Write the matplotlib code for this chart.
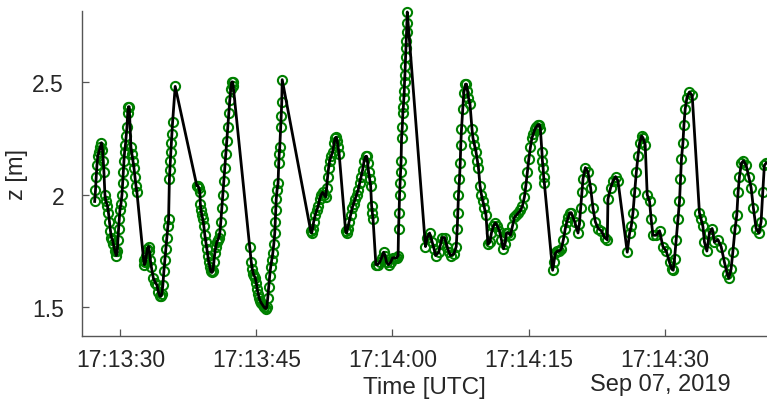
import matplotlib
matplotlib.use("Agg")
import matplotlib.pyplot as plt
import matplotlib.dates as mdates
from datetime import datetime, timedelta

# seconds after 17:13:30 UTC, 2019-09-07
t_s = [
    -2.84, -2.75, -2.67, -2.59, -2.50, -2.37, -2.22, -2.09, -1.98, -1.89, -1.82, -1.71,
    -1.60, -1.43, -1.32, -1.21, -1.10, -0.99, -0.88, -0.77, -0.61, -0.46, -0.35, -0.28,
    -0.20, -0.13, -0.06, 0.06, 0.17, 0.24, 0.31, 0.39, 0.46, 0.55, 0.64, 0.72, 0.80,
    0.88, 0.97, 1.16, 1.27, 1.38, 1.49, 1.60, 1.71, 1.82, 2.56, 2.64, 2.75, 2.86, 2.97,
    3.11, 3.19, 3.30, 3.41, 3.63, 3.85, 4.02, 4.18, 4.35, 4.46, 4.57, 4.68, 4.79, 4.90,
    5.01, 5.12, 5.23, 5.31, 5.40, 5.45, 5.51, 5.56, 5.62, 5.67, 5.75, 6.04,
    8.42, 8.54, 8.65, 8.76, 8.81, 8.89, 8.98, 9.09, 9.20, 9.31, 9.42, 9.53, 9.64, 9.75,
    9.86, 9.97, 10.08, 10.19, 10.30, 10.41, 10.52, 10.63, 10.74, 10.85, 10.96, 11.07,
    11.18, 11.29, 11.40, 11.51, 11.62, 11.73, 11.84, 11.95, 12.06, 12.17, 12.28, 12.37,
    12.44, 14.26, 14.43, 14.54, 14.65, 14.76, 14.87, 14.98, 15.09, 15.20, 15.31, 15.42,
    15.53, 15.69, 15.86, 16.02, 16.13, 16.24, 16.35, 16.46, 16.57, 16.68, 16.80, 16.91,
    17.02, 17.07, 17.13, 17.18, 17.27, 17.38, 17.46, 17.51, 17.57, 17.68, 17.73, 17.79,
    17.84,
    20.98, 21.09, 21.20, 21.31, 21.48, 21.64, 21.81, 21.97, 22.14, 22.30, 22.47, 22.63,
    22.74, 22.85, 22.96, 23.07, 23.24, 23.40, 23.57, 23.68, 23.79, 23.90, 24.01, 24.12,
    24.83, 24.94, 25.06, 25.22, 25.39, 25.55, 25.72, 25.88, 26.05, 26.21, 26.38, 26.54,
    26.71, 26.87, 27.04, 27.15, 27.26, 27.37, 27.48, 27.59, 27.70, 27.78, 27.86, 28.17,
    28.36, 28.58, 28.80, 29.02, 29.18, 29.35, 29.57, 29.79, 30.01, 30.23, 30.45, 30.62,
    30.67, 30.73, 30.78, 30.84, 30.89, 30.95, 31.00, 31.08, 31.14, 31.20, 31.26, 31.30,
    31.33, 31.37, 31.41, 31.44, 31.48, 31.52, 31.55, 31.59, 31.63,
    33.64, 33.83, 34.09, 34.38, 34.58, 34.75, 35.11, 35.30, 35.48, 35.74, 36.03, 36.23,
    36.40, 36.76, 37.03, 37.14, 37.20, 37.28, 37.39, 37.47, 37.53, 37.61, 37.75, 37.86,
    38.05, 38.16, 38.27, 38.38, 38.55, 38.77, 38.88, 39.04, 39.21, 39.37, 39.48, 39.65,
    39.81, 39.98, 40.14, 40.31, 40.53, 40.75, 40.91, 41.13, 41.35, 41.57, 41.79, 42.01,
    42.24, 42.40, 42.57, 42.79, 43.01, 43.23, 43.45, 43.67, 43.89, 44.11, 44.33, 44.55,
    44.71, 44.88, 45.04, 45.21, 45.37, 45.54, 45.70, 45.87, 46.03, 46.20, 46.31, 46.48,
    46.53, 46.61, 46.67, 46.75, 47.66, 47.80, 47.96, 48.18, 48.40, 48.62, 48.84, 49.06,
    49.23, 49.39, 49.56, 49.72, 50.09, 50.46, 50.61, 50.75, 50.88, 51.01, 51.27, 51.56,
    51.85, 52.11, 52.37, 52.68, 53.03, 53.39, 53.69, 53.76, 54.05, 54.31, 54.60, 54.87,
    55.89, 56.15, 56.33, 56.52, 56.70, 56.89, 57.07, 57.25, 57.49, 57.65, 57.87, 58.09,
    58.35, 58.53, 58.72, 59.09, 59.45, 59.82, 60.19, 60.55, 60.79, 60.96, 61.10, 61.29,
    61.48, 61.65, 61.76, 61.87, 62.03, 62.14, 62.28, 62.47, 62.75, 63.05, 63.85, 64.04,
    64.23, 64.40, 64.67, 64.95, 65.25, 65.50, 65.88, 66.24, 66.61, 66.90, 67.09, 67.34,
    67.53, 67.78, 67.97, 68.11, 68.26, 68.48, 68.70, 69.00, 69.29, 69.55, 69.80, 70.10,
    70.40, 70.65, 70.83, 71.01, 71.20,
]

z_m = [
    1.97, 2.02, 2.08, 2.13, 2.17, 2.19, 2.21, 2.23, 2.20, 2.15, 2.10, 2.00,
    1.97, 1.95, 1.92, 1.88, 1.84, 1.81, 1.80, 1.78, 1.75, 1.73, 1.75, 1.80,
    1.85, 1.89, 1.93, 1.96, 2.00, 2.05, 2.10, 2.15, 2.19, 2.22, 2.26, 2.30, 2.36,
    2.39, 2.39, 2.21, 2.18, 2.15, 2.12, 2.08, 2.04, 2.01, 1.71, 1.69, 1.70, 1.73, 1.76,
    1.77, 1.75, 1.71, 1.68, 1.63, 1.61, 1.60, 1.57, 1.55, 1.55, 1.56, 1.60, 1.66, 1.71,
    1.76, 1.81, 1.86, 1.89, 2.07, 2.11, 2.15, 2.19, 2.23, 2.27, 2.32, 2.48,
    2.04, 2.04, 2.03, 2.01, 1.96, 1.93, 1.91, 1.89, 1.86, 1.82, 1.79, 1.76, 1.73, 1.70,
    1.68, 1.66, 1.655, 1.66, 1.70, 1.74, 1.77, 1.79, 1.80, 1.81, 1.83, 1.88,
    1.94, 2.00, 2.06, 2.12, 2.18, 2.24, 2.30, 2.36, 2.42, 2.47, 2.50, 2.50,
    2.48, 1.77, 1.70, 1.67, 1.65, 1.64, 1.63, 1.61, 1.58, 1.56, 1.54, 1.53,
    1.52, 1.51, 1.50, 1.495, 1.50, 1.54, 1.59, 1.64, 1.68, 1.71, 1.74, 1.78,
    1.83, 1.88, 1.93, 1.98, 2.02, 2.05, 2.14, 2.18, 2.21, 2.30, 2.35, 2.41,
    2.51,
    1.84, 1.83, 1.85, 1.88, 1.91, 1.93, 1.95, 1.98, 2.00, 2.01, 2.00, 1.99,
    2.03, 2.08, 2.12, 2.15, 2.17, 2.19, 2.23, 2.25, 2.255, 2.24, 2.21, 2.18,
    1.84, 1.83, 1.85, 1.88, 1.91, 1.94, 1.96, 1.98, 2.00, 2.02, 2.05, 2.08,
    2.11, 2.15, 2.17, 2.17, 2.14, 2.10, 2.07, 2.04, 1.95, 1.92, 1.89, 1.69,
    1.69, 1.70, 1.72, 1.745, 1.73, 1.70, 1.69, 1.70, 1.72, 1.72, 1.72, 1.73,
    1.85, 1.92, 2.00, 2.05, 2.10, 2.15, 2.25, 2.30, 2.36, 2.39, 2.43, 2.46,
    2.50, 2.53, 2.57, 2.61, 2.65, 2.68, 2.72, 2.76, 2.81,
    1.77, 1.81, 1.83, 1.79, 1.76, 1.73, 1.745, 1.78, 1.81, 1.81, 1.77, 1.745,
    1.73, 1.737, 1.77, 1.85, 1.92, 2.00, 2.07, 2.14, 2.22, 2.29, 2.38, 2.45,
    2.49, 2.49, 2.46, 2.43, 2.40, 2.29, 2.25, 2.22, 2.19, 2.15, 2.12, 2.04,
    2.00, 1.97, 1.94, 1.91, 1.78, 1.79, 1.83, 1.86, 1.875, 1.86, 1.84, 1.80,
    1.76, 1.78, 1.83, 1.83, 1.82, 1.86, 1.90, 1.91, 1.92, 1.93, 1.95, 1.99,
    2.04, 2.10, 2.16, 2.21, 2.25, 2.27, 2.29, 2.30, 2.31, 2.31, 2.29, 2.19,
    2.15, 2.12, 2.08, 2.05, 1.665, 1.70, 1.74, 1.75, 1.75, 1.76, 1.80, 1.85,
    1.88, 1.90, 1.92, 1.92, 1.88, 1.83, 1.87, 1.94, 2.01, 2.07, 2.12, 2.10,
    2.03, 1.94, 1.88, 1.85, 1.84, 1.81, 1.80, 1.98, 2.03, 2.06, 2.08, 2.06,
    1.745, 1.83, 1.86, 1.92, 2.01, 2.10, 2.17, 2.23, 2.26, 2.25, 2.22, 2.00,
    1.97, 1.89, 1.82, 1.82, 1.84, 1.77, 1.75, 1.70, 1.67, 1.665, 1.715, 1.80,
    1.89, 1.97, 2.07, 2.16, 2.23, 2.31, 2.38, 2.43, 2.455, 2.44, 1.92, 1.89,
    1.86, 1.79, 1.75, 1.83, 1.85, 1.79, 1.80, 1.77, 1.70, 1.65, 1.63, 1.67,
    1.745, 1.85, 1.91, 2.01, 2.08, 2.14, 2.15, 2.13, 2.08, 2.03, 1.94, 1.85,
    1.83, 1.88, 2.01, 2.13, 2.14,
]

y_ticks = [1.5, 2, 2.5]
y_tick_labels = ['1.5', '2', '2.5']
date_label = 'Sep 07, 2019'

start = datetime(2019, 9, 7, 17, 13, 30)
times = [start + timedelta(seconds=s) for s in t_s]

plt.rcParams['font.family'] = ['Liberation Sans', 'DejaVu Sans']

fig = plt.figure(figsize=(7.67, 4.02), dpi=100)
ax = fig.add_axes([0.107, 0.162, 0.893, 0.808])

green = (0.0, 0.5, 0.0)
ax.plot(times, z_m, linestyle='none', marker='o', markersize=6.6,
        markerfacecolor='none', markeredgecolor=green, markeredgewidth=1.5,
        clip_on=False)
ax.plot(times, z_m, color='black', linewidth=2.0, clip_on=False)

ax.set_xlim(start + timedelta(seconds=-4.23), start + timedelta(seconds=71.3))
ax.set_ylim(1.374, 2.814)
ax.set_yticks(y_ticks)
ax.set_yticklabels(y_tick_labels)
ax.xaxis.set_major_locator(mdates.SecondLocator(bysecond=[0, 15, 30, 45]))
ax.xaxis.set_major_formatter(mdates.DateFormatter('%H:%M:%S'))

for side in ['top', 'right']:
    ax.spines[side].set_visible(False)
for side in ['left', 'bottom']:
    ax.spines[side].set_color('#555555')
    ax.spines[side].set_linewidth(1.0)
ax.tick_params(direction='in', length=5, width=0.9, color='#555555',
               labelsize=16.5, labelcolor='#262626')
ax.tick_params(axis='x', pad=9)
ax.tick_params(axis='y', pad=13)

ax.set_xlabel('Time [UTC]', fontsize=17.5, color='#262626', labelpad=3)
ax.set_ylabel('z [m]', fontsize=17, color='#262626', labelpad=3)
fig.text(0.861, 0.042, date_label, fontsize=17, color='#262626', ha='center', va='center')

fig.savefig('out.png', dpi=100)
